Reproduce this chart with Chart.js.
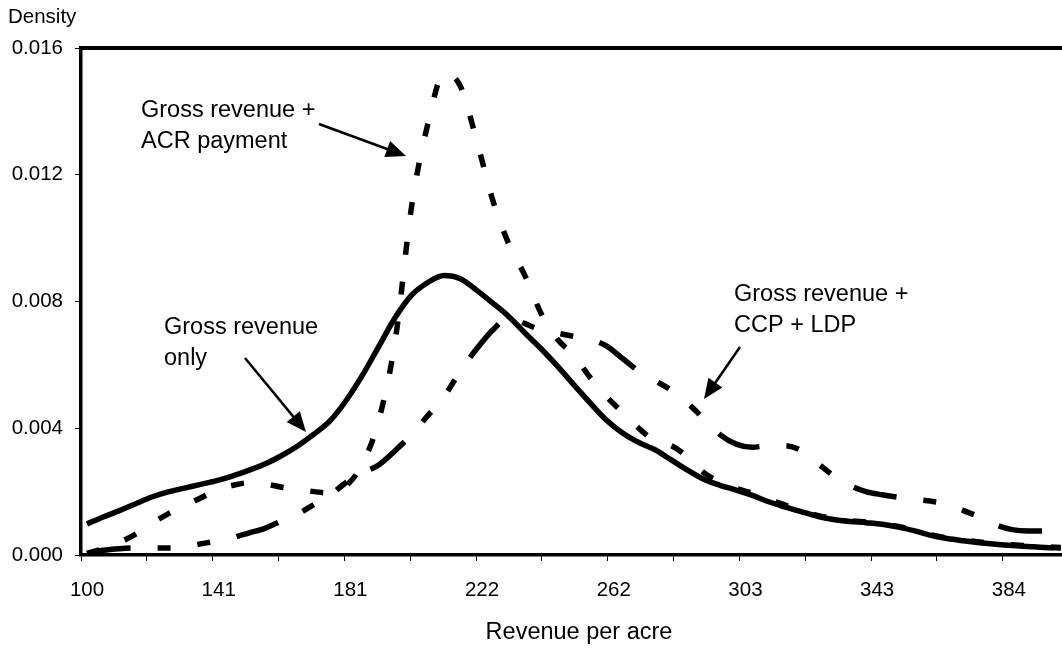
<!DOCTYPE html>
<html>
<head>
<meta charset="utf-8">
<script src="https://cdn.jsdelivr.net/npm/chart.js@4.4.1/dist/chart.umd.min.js"></script>
<style>
  html, body { margin: 0; padding: 0; background: #fff; overflow: hidden; }
  #wrap { width: 1062px; height: 651px; overflow: hidden; }
  canvas { display: block; }
</style>
</head>
<body>
<div id="wrap"><canvas id="chart" width="1077" height="651"></canvas></div>
<script>
// revenue per acre (x) and the three densities
const revenue = [
  100, 105, 110, 115, 120, 125, 130, 135, 140, 145,
  150, 155, 160, 165, 170, 175, 180, 185, 190, 195,
  200, 205, 210, 215, 220, 225, 230, 235, 240, 245,
  250, 255, 260, 265, 270, 275, 280, 285, 290, 295,
  300, 305, 310, 315, 320, 325, 330, 335, 340, 345,
  350, 355, 360, 365, 370, 375, 380, 385, 390, 395, 400,
];
const grossOnly = [
  0.00098, 0.0012, 0.0014, 0.00162, 0.00183, 0.00199, 0.00211, 0.00223, 0.00235, 0.0025,
  0.00268, 0.00288, 0.00314, 0.00345, 0.00382, 0.00425, 0.0049, 0.0057, 0.0066, 0.0075,
  0.0082, 0.0086, 0.00882, 0.00872, 0.00836, 0.00795, 0.00752, 0.007, 0.0065, 0.00595,
  0.00537, 0.0048, 0.00426, 0.00385, 0.00355, 0.00332, 0.003, 0.00268, 0.00239, 0.0022,
  0.00205, 0.00188, 0.00168, 0.00152, 0.00137, 0.00122, 0.00112, 0.00106, 0.00102, 0.00097,
  0.00088, 0.00076, 0.00062, 0.00052, 0.00045, 0.00039, 0.00034, 0.0003, 0.00027, 0.00024, 0.00022,
];
const grossAcr = [
  0.00005, 0.0002, 0.0004, 0.00066, 0.001, 0.0013, 0.00155, 0.0018, 0.00205, 0.0022,
  0.00228, 0.00224, 0.00214, 0.00207, 0.002, 0.00195, 0.0022, 0.0029, 0.0043, 0.0068,
  0.011, 0.0136, 0.0152, 0.0148, 0.0131, 0.0112, 0.0098, 0.0088, 0.0076, 0.0068,
  0.0063, 0.0056, 0.005, 0.0045, 0.004, 0.0036, 0.00345, 0.0031, 0.0026, 0.0023,
  0.0021, 0.00195, 0.00175, 0.00158, 0.0014, 0.00125, 0.00115, 0.00108, 0.00104, 0.00099,
  0.0009, 0.00078, 0.00064, 0.00054, 0.00047, 0.00041, 0.00036, 0.00032, 0.00029, 0.00026, 0.00024,
];
const grossCcpLdp = [
  0.00005, 0.00015, 0.0002, 0.00022, 0.00022, 0.00022, 0.00025, 0.00035, 0.00044, 0.00055,
  0.0007, 0.00085, 0.00108, 0.0013, 0.0016, 0.0019, 0.0023, 0.0026, 0.00285, 0.0033,
  0.0038, 0.0044, 0.005, 0.0058, 0.0065, 0.0071, 0.0075, 0.0073, 0.0071, 0.007,
  0.0069, 0.0068, 0.0066, 0.0062, 0.0058, 0.0055, 0.0052, 0.0048, 0.0043, 0.0038,
  0.0035, 0.0034, 0.00345, 0.00345, 0.0033, 0.0029, 0.0025, 0.0022, 0.002, 0.0019,
  0.00182, 0.00176, 0.0017, 0.0016, 0.0014, 0.0012, 0.00095, 0.0008, 0.00076, 0.00076, 0.00077,
];
const xTickLabels = ['100', '141', '181', '222', '262', '303', '343', '384'];
const xLabelValues = [100, 140.57, 181.14, 221.71, 262.29, 302.86, 343.43, 384];

const FONT = '"Liberation Sans", Arial, sans-serif';

const notes = [
  { lines: ['Gross revenue +', 'ACR payment'], x: 141, y: 117, from: [319, 124], to: [406, 156] },
  { lines: ['Gross revenue', 'only'], x: 164, y: 334, from: [245, 358], to: [306, 432] },
  { lines: ['Gross revenue +', 'CCP + LDP'], x: 734, y: 301, from: [740, 347], to: [704, 399] },
];

function drawArrow(ctx, [x1, y1], [x2, y2]) {
  const a = Math.atan2(y2 - y1, x2 - x1);
  const len = 20, half = 8.5;
  const bx = x2 - len * Math.cos(a), by = y2 - len * Math.sin(a);
  ctx.beginPath();
  ctx.moveTo(x1, y1);
  ctx.lineTo(bx + 2 * Math.cos(a), by + 2 * Math.sin(a));
  ctx.stroke();
  ctx.beginPath();
  ctx.moveTo(x2, y2);
  ctx.lineTo(bx + half * Math.sin(a), by - half * Math.cos(a));
  ctx.lineTo(bx - half * Math.sin(a), by + half * Math.cos(a));
  ctx.closePath();
  ctx.fill();
}

const extras = {
  id: 'extras',
  afterDraw(chart) {
    const { ctx, chartArea } = chart;
    ctx.save();
    // top frame line
    ctx.strokeStyle = '#000';
    ctx.lineWidth = 4;
    ctx.beginPath();
    ctx.moveTo(chartArea.left - 2, chartArea.top);
    ctx.lineTo(chartArea.right, chartArea.top);
    ctx.stroke();

    ctx.fillStyle = '#000';
    ctx.textBaseline = 'alphabetic';
    ctx.textAlign = 'left';
    ctx.font = `20.5px ${FONT}`;
    ctx.fillText('Density', 8, 23);

    ctx.font = `23.5px ${FONT}`;
    ctx.lineWidth = 2.5;
    notes.forEach(n => {
      n.lines.forEach((t, i) => ctx.fillText(t, n.x, n.y + i * 31));
      drawArrow(ctx, n.from, n.to);
    });
    ctx.restore();
  },
};

const lineStyle = {
  borderColor: '#000',
  borderWidth: 5.5,
  borderCapStyle: 'butt',
  borderJoinStyle: 'round',
  pointRadius: 0,
  fill: false,
  cubicInterpolationMode: 'monotone',
};

const toPoints = ys => revenue.map((x, i) => ({ x, y: ys[i] }));

new Chart(document.getElementById('chart'), {
  type: 'line',
  data: {
    datasets: [
      { ...lineStyle, label: 'Gross revenue + CCP + LDP', data: toPoints(grossCcpLdp), borderDash: [44, 27, 13, 27, 13, 27] },
      { ...lineStyle, label: 'Gross revenue + ACR payment', data: toPoints(grossAcr), borderDash: [13, 27] },
      { ...lineStyle, label: 'Gross revenue only', data: toPoints(grossOnly) },
    ],
  },
  options: {
    responsive: false,
    devicePixelRatio: 1,
    animation: false,
    layout: { padding: { top: 48, left: 0, right: 0, bottom: 0 } },
    plugins: { legend: { display: false }, tooltip: { enabled: false } },
    scales: {
      x: {
        type: 'linear',
        min: 98.15,
        max: 405,
        afterFit: s => {
          s.height = 96;
          s.paddingLeft = 0;
          s.paddingRight = 0;
        },
        afterBuildTicks: s => {
          s.ticks = [];
          xLabelValues.forEach(v => {
            s.ticks.push({ value: v - 1.85 });
            s.ticks.push({ value: v - 1.85 + 20.286 });
          });
        },
        grid: { drawOnChartArea: false, drawTicks: true, tickLength: 6, color: '#000', lineWidth: 1 },
        border: { display: true, color: '#000', width: 3.5 },
        ticks: {
          autoSkip: false,
          maxRotation: 0,
          labelOffset: 6,
          padding: 17,
          color: '#000',
          font: { family: FONT, size: 20.5 },
          callback: (v, i) => (i % 2 === 0 ? xTickLabels[i / 2] : ''),
        },
        title: {
          display: true,
          text: 'Revenue per acre',
          color: '#000',
          font: { family: FONT, size: 23.5 },
          padding: { top: 0, bottom: 4 },
        },
      },
      y: {
        min: 0,
        max: 0.016,
        afterFit: s => { s.width = 81; },
        grid: { drawOnChartArea: false, drawTicks: true, tickLength: 6, color: '#000', lineWidth: 1 },
        border: { display: true, color: '#000', width: 3.5 },
        ticks: {
          stepSize: 0.004,
          padding: 12,
          color: '#000',
          font: { family: FONT, size: 20.5 },
          callback: v => v.toFixed(3),
        },
      },
    },
  },
  plugins: [extras],
});
</script>
</body>
</html>
